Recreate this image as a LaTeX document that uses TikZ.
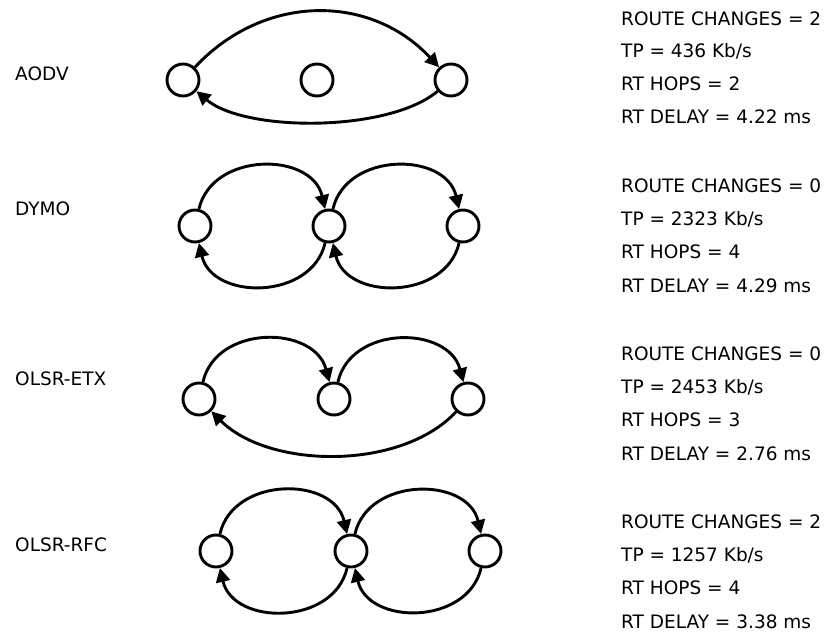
\documentclass[tikz,border=0pt]{standalone}
\usepackage{fontspec}
\setmainfont{DejaVu Sans}
\usetikzlibrary{arrows.meta}

\tikzset{
	host/.style = {circle, draw, line width=2.9pt, minimum size=32pt, inner sep=0pt},
	flow/.style = {line width=2.9pt, -{Triangle[length=14pt, width=14pt]}},
	proto/.style = {anchor=base west, inner sep=0pt, font=\fontsize{18.5}{22}\selectfont},
	stat/.style = {anchor=base west, inner sep=0pt, font=\fontsize{18.5}{22}\selectfont}
}

\begin{document}
\begin{tikzpicture}[x=1pt, y=-1pt]
\useasboundingbox (0, 0) rectangle (835, 632);

% AODV
\node[proto] (aodv) at (15, 80) {AODV};
\node[host] (aodvA) at (183, 80) {};
\node[host] (aodvB) at (317, 80) {};
\node[host] (aodvC) at (451, 80) {};
\draw[flow] (aodvA) to[out=47, in=133, looseness=1.06] (aodvC);
\draw[flow] (aodvC) to[out=220, in=-40, looseness=0.68] (aodvA);
\node[stat] (aodvrc) at (621, 25) {ROUTE CHANGES = 2};
\node[stat] (aodvtp) at (621, 57) {TP = 436 Kb/s};
\node[stat] (aodvhops) at (621, 90) {RT HOPS = 2};
\node[stat] (aodvdelay) at (621, 123) {RT DELAY = 4.22 ms};

% DYMO
\node[proto] (dymo) at (15, 215) {DYMO};
\node[host] (dymoA) at (195, 226) {};
\node[host] (dymoB) at (329, 226) {};
\node[host] (dymoC) at (463, 226) {};
\draw[flow] (dymoA) to[out=77, in=103, looseness=1.2] (dymoB);
\draw[flow] (dymoB) to[out=77, in=103, looseness=1.2] (dymoC);
\draw[flow] (dymoB) to[out=-103, in=-77, looseness=1.2] (dymoA);
\draw[flow] (dymoC) to[out=-103, in=-77, looseness=1.2] (dymoB);
\node[stat] (dymorc) at (621, 192) {ROUTE CHANGES = 0};
\node[stat] (dymotp) at (621, 225) {TP = 2323 Kb/s};
\node[stat] (dymohops) at (621, 258) {RT HOPS = 4};
\node[stat] (dymodelay) at (621, 292) {RT DELAY = 4.29 ms};

% OLSR-ETX
\node[proto] (etx) at (15, 385) {OLSR-ETX};
\node[host] (etxA) at (199, 399) {};
\node[host] (etxB) at (334, 399) {};
\node[host] (etxC) at (468, 399) {};
\draw[flow] (etxA) to[out=77, in=105, looseness=1.2] (etxB);
\draw[flow] (etxB) to[out=77, in=105, looseness=1.2] (etxC);
\draw[flow] (etxC) to[out=227, in=-45, looseness=0.85] (etxA);
\node[stat] (etxrc) at (621, 360) {ROUTE CHANGES = 0};
\node[stat] (etxtp) at (621, 393) {TP = 2453 Kb/s};
\node[stat] (etxhops) at (621, 426) {RT HOPS = 3};
\node[stat] (etxdelay) at (621, 460) {RT DELAY = 2.76 ms};

% OLSR-RFC
\node[proto] (rfc) at (15, 551) {OLSR-RFC};
\node[host] (rfcA) at (216, 551) {};
\node[host] (rfcB) at (351, 551) {};
\node[host] (rfcC) at (485, 551) {};
\draw[flow] (rfcA) to[out=77, in=103, looseness=1.2] (rfcB);
\draw[flow] (rfcB) to[out=77, in=103, looseness=1.2] (rfcC);
\draw[flow] (rfcB) to[out=-103, in=-77, looseness=1.2] (rfcA);
\draw[flow] (rfcC) to[out=-103, in=-77, looseness=1.2] (rfcB);
\node[stat] (rfcrc) at (621, 528) {ROUTE CHANGES = 2};
\node[stat] (rfctp) at (621, 561) {TP = 1257 Kb/s};
\node[stat] (rfchops) at (621, 594) {RT HOPS = 4};
\node[stat] (rfcdelay) at (621, 628) {RT DELAY = 3.38 ms};

\end{tikzpicture}
\end{document}
